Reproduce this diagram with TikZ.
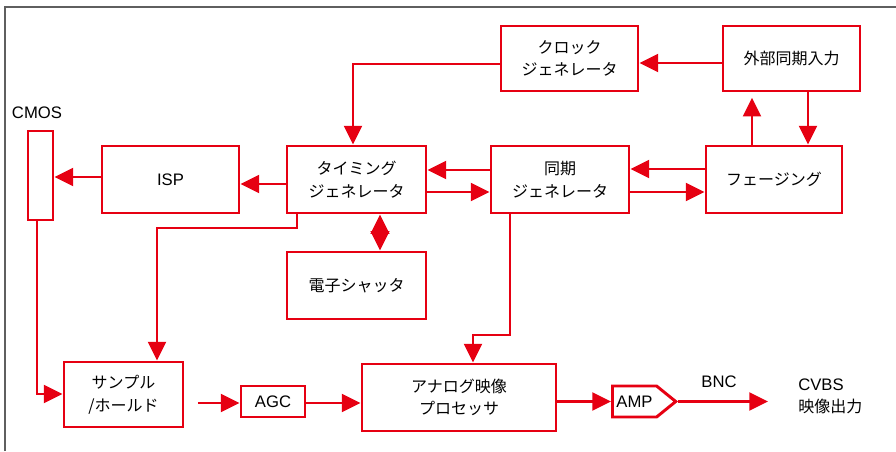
\documentclass[tikz,border=0pt]{standalone}
\usepackage{fontspec}
\setmainfont{Noto Sans CJK JP}
\newfontfamily\lat{Liberation Sans}
\usetikzlibrary{arrows.meta,shapes.symbols}
\definecolor{bred}{RGB}{230,0,18}
\definecolor{frame}{RGB}{95,95,95}
\tikzset{
  box/.style={draw=bred, line width=2.2pt, fill=white, inner sep=0pt, align=center,
    font=\fontsize{12}{17}\selectfont},
  arr/.style={draw=bred, line width=1.6pt, -{Triangle[length=14pt,width=13.5pt]}},
  darr/.style={draw=bred, line width=1.6pt, {Triangle[length=14.5pt,width=14pt]}-{Triangle[length=14.5pt,width=14pt]}},
  lbl/.style={font=\fontsize{12}{17}\selectfont, inner sep=0pt, align=left},
}
\begin{document}
\begin{tikzpicture}[x=0.75pt,y=-0.75pt]
\useasboundingbox (0,0) rectangle (896,451);
\draw[frame, line width=1.5pt] (5,451) -- (5,7) -- (896,7);

\node[box, minimum width=25*0.75pt, minimum height=89*0.75pt] (cmos) at (40.5,175.5) {};
\node[lbl] (cmoslbl) at (37,113) {\lat\fontsize{12.5}{17}\selectfont CMOS};
\node[box, minimum width=137*0.75pt, minimum height=67*0.75pt] (isp) at (170.5,179.5) {\lat\fontsize{12.5}{17}\selectfont ISP};
\node[box, minimum width=139*0.75pt, minimum height=67*0.75pt] (timing) at (356.5,179.5) {タイミング\\ジェネレータ};
\node[box, minimum width=138*0.75pt, minimum height=67*0.75pt] (sync) at (560,179.5) {同期\\ジェネレータ};
\node[box, minimum width=136*0.75pt, minimum height=67*0.75pt] (phase) at (774,179.5) {フェージング};
\node[box, minimum width=137*0.75pt, minimum height=65*0.75pt] (clock) at (569.5,58.5) {クロック\\ジェネレータ};
\node[box, minimum width=137*0.75pt, minimum height=65*0.75pt] (ext) at (791.5,58.5) {外部同期入力};
\node[box, minimum width=139*0.75pt, minimum height=67*0.75pt] (shutter) at (356.5,285.5) {電子シャッタ};
\node[box, minimum width=119*0.75pt, minimum height=65*0.75pt] (sh) at (123.5,394.5) {サンプル\\/ホールド};
\node[box, minimum width=64*0.75pt, minimum height=31*0.75pt] (agc) at (273,401.5) {\lat\fontsize{12.5}{17}\selectfont AGC};
\node[box, minimum width=194*0.75pt, minimum height=67*0.75pt] (analog) at (459,397.5) {アナログ映像\\プロセッサ};
\node[box, signal, signal to=east, signal pointer angle=78, minimum height=31*0.75pt,
      inner xsep=3pt, anchor=west] (amp) at (611,401.5) {\lat\fontsize{12.5}{17}\selectfont AMP};
\node[lbl] (bnc) at (719,382) {\lat\fontsize{12.5}{17}\selectfont BNC};
\node[lbl, anchor=west] (cvbs) at (798,396.5) {{\lat\fontsize{12.5}{17}\selectfont CVBS}\\映像出力};
\coordinate (out) at (768,401.5);

\draw[arr] (ext.west |- 0,63) -- (clock.east |- 0,63);
\draw[arr] (clock.west |- 0,64) -| (timing.north -| 353,0);
\draw[arr, shorten >=4pt] (phase.north -| 752,0) -- (ext.south -| 752,0);
\draw[arr] (ext.south -| 808,0) -- (phase.north -| 808,0);
\draw[arr] (phase.west |- 0,169) -- (sync.east |- 0,169);
\draw[arr] (sync.east |- 0,192) -- (phase.west |- 0,192);
\draw[arr] (sync.west |- 0,170) -- (timing.east |- 0,170);
\draw[arr] (timing.east |- 0,192) -- (sync.west |- 0,192);
\draw[arr] (timing.west |- 0,184) -- (isp.east |- 0,184);
\draw[arr] (isp.west |- 0,177) -- (cmos.east |- 0,177);
\draw[darr] (timing.south -| 380,0) -- (shutter.north -| 380,0);
\draw[arr] (timing.south -| 297,0) |- (157,228) -- (sh.north -| 157,0);
\draw[arr] (cmos.south -| 37,0) |- (sh.west |- 0,394);
\draw[arr, shorten <=10pt] (sh.east |- 0,403) -- (agc.west |- 0,403);
\draw[arr] (agc.east |- 0,403) -- (analog.west |- 0,403);
\draw[arr] (sync.south -| 510,0) |- (473,335) -- (analog.north -| 473,0);
\draw[arr] (analog.east |- amp.west) -- (amp.west);
\draw[arr] (amp.east) -- (out);
\end{tikzpicture}
\end{document}
